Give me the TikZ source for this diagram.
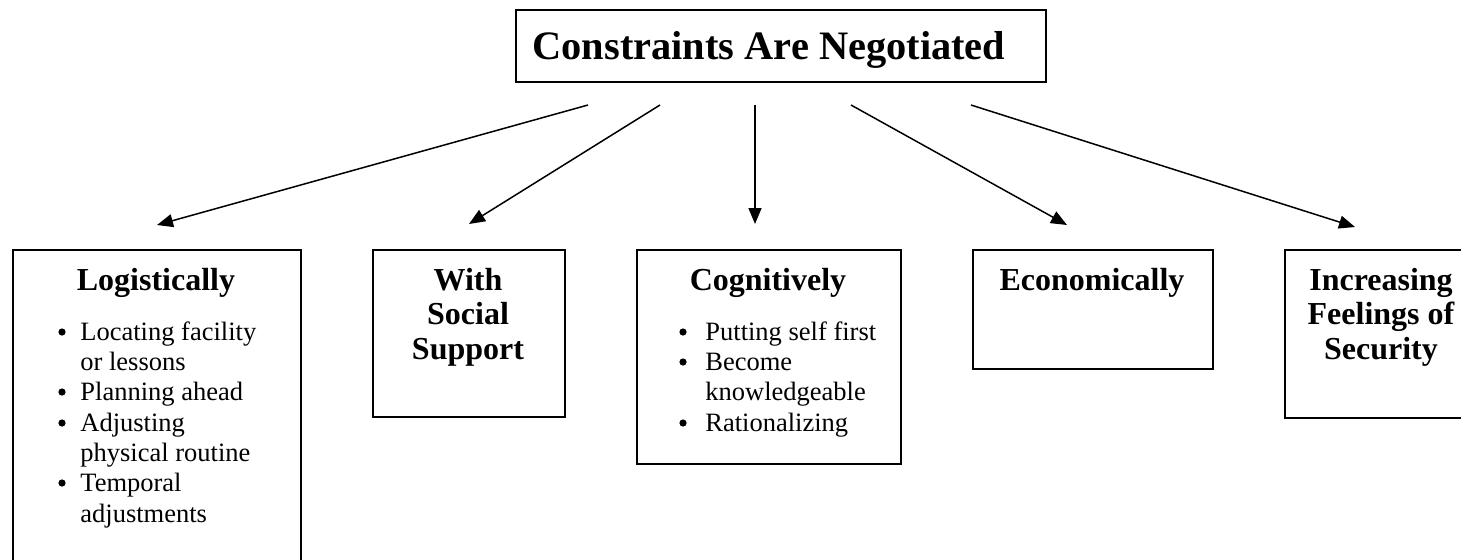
\documentclass[tikz,border=0pt]{standalone}
\usepackage{fontspec}
\setmainfont{Liberation Serif}
\usetikzlibrary{arrows.meta}
\begin{document}
\begin{tikzpicture}[x=0.5pt,y=-0.5pt,
  box/.style={draw,line width=1pt,inner sep=0pt,anchor=north west},
  conn/.style={line width=0.75pt,-{Triangle[length=8pt,width=6.5pt]}},
  ttl/.style={font=\fontsize{20.2}{24}\selectfont\bfseries,inner sep=0pt,anchor=base},
  head/.style={font=\fontsize{16}{19}\selectfont\bfseries,inner sep=0pt,anchor=base},
  btext/.style={font=\fontsize{13.25}{15}\selectfont,inner sep=0pt,anchor=base west},
  bul/.style={fill,circle,inner sep=0pt,minimum size=3.6pt}]
\useasboundingbox (0,0) rectangle (1461,559);
\clip (0,0) rectangle (1461,559);
% boxes
\node[box,minimum width=265pt,minimum height=36pt] (top) at (515,9) {};
\node[box,minimum width=144pt,minimum height=175pt] (b1) at (12,249) {};
\node[box,minimum width=96pt,minimum height=83.5pt] (b2) at (372,249) {};
\node[box,minimum width=132pt,minimum height=107pt] (b3) at (636,249) {};
\node[box,minimum width=120pt,minimum height=59.5pt] (b4) at (972,249) {};
\node[box,minimum width=98pt,minimum height=84pt] (b5) at (1284,249) {};
% title
\node[ttl] (title) at (769,59) {Constraints Are Negotiated};
% headings
\node[head] (h1) at (156,290) {Logistically};
\node[head] (h2a) at (468,290) {With};
\node[head] (h2b) at (468,324.5) {Social};
\node[head] (h2c) at (468,359) {Support};
\node[head] (h3) at (768,290) {Cognitively};
\node[head] (h4) at (1092,290) {Economically};
\node[head] (h5a) at (1381,290) {Increasing};
\node[head] (h5b) at (1381,324.5) {Feelings of};
\node[head] (h5c) at (1381,359) {Security};
% box 1 bullets
\node[bul] (p1) at (62,332) {};
\node[btext] (t1a) at (80,340) {Locating facility};
\node[btext] (t1b) at (80,370) {or lessons};
\node[bul] (p2) at (62,392) {};
\node[btext] (t2a) at (80,400) {Planning ahead};
\node[bul] (p3) at (62,423) {};
\node[btext] (t3a) at (80,431) {Adjusting};
\node[btext] (t3b) at (80,461) {physical routine};
\node[bul] (p4) at (62,483) {};
\node[btext] (t4a) at (80,491) {Temporal};
\node[btext] (t4b) at (80,522) {adjustments};
% box 3 bullets
\node[bul] (q1) at (683,332) {};
\node[btext] (u1) at (705,340) {Putting self first};
\node[bul] (q2) at (683,362) {};
\node[btext] (u2a) at (705,370) {Become};
\node[btext] (u2b) at (705,400) {knowledgeable};
\node[bul] (q3) at (683,423) {};
\node[btext] (u3) at (705,431) {Rationalizing};
% connectors
\coordinate (s1) at (588,105); \coordinate (e1) at (157,225);
\coordinate (s2) at (660,105); \coordinate (e2) at (469,224);
\coordinate (s3) at (755,105); \coordinate (e3) at (755,224);
\coordinate (s4) at (851,105); \coordinate (e4) at (1067,225);
\coordinate (s5) at (971,105); \coordinate (e5) at (1355,227);
\draw[conn] (s1) -- (e1);
\draw[conn] (s2) -- (e2);
\draw[conn] (s3) -- (e3);
\draw[conn] (s4) -- (e4);
\draw[conn] (s5) -- (e5);
\end{tikzpicture}
\end{document}
